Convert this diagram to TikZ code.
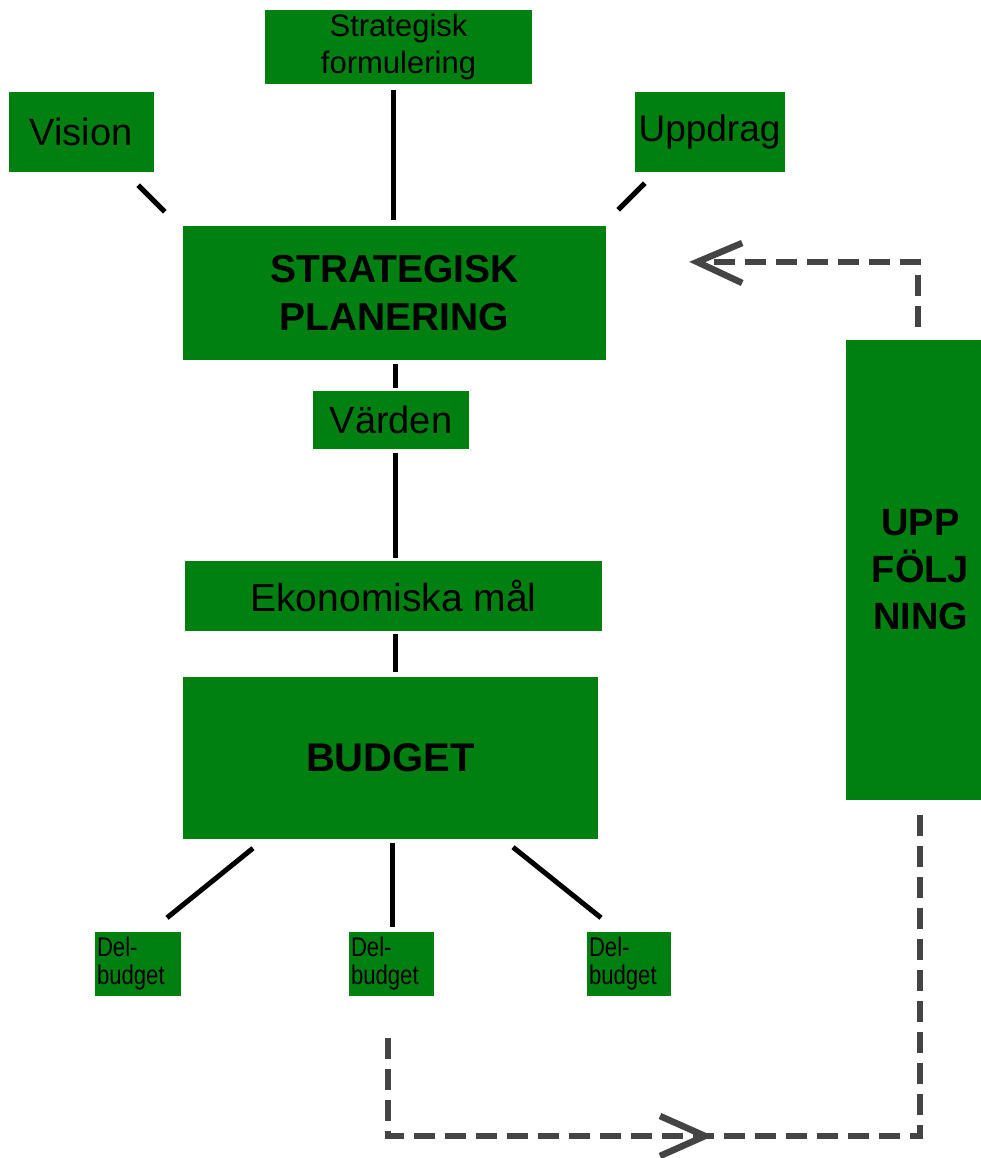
\documentclass[tikz,border=0pt]{standalone}
\usepackage{fontspec}
\setmainfont{Liberation Sans}
\newfontfamily\narrowsans[FakeStretch=0.82]{Liberation Sans}
\usetikzlibrary{calc}
\definecolor{boxgreen}{RGB}{0,128,16}
\definecolor{dashgray}{RGB}{68,68,68}
\begin{document}
\begin{tikzpicture}[x=1pt,y=-1pt,
  gbox/.style={fill=boxgreen,draw=none,inner sep=0pt,align=center,text=black},
  conn/.style={draw=black,line width=5pt},
  dashln/.style={draw=dashgray,line width=6pt,dash pattern=on 21pt off 10pt},
  chev/.style={draw=dashgray,line width=6.5pt,solid,line join=miter},
  fsf/.style={font=\fontsize{31}{37}\selectfont},
  freg/.style={font=\fontsize{38}{46}\selectfont},
  fbold/.style={font=\fontsize{39}{48}\selectfont\bfseries},
  fsmall/.style={font=\narrowsans\fontsize{27}{28}\selectfont}
]
\useasboundingbox (0,0) rectangle (981,1158);

\node[gbox,fsf,minimum width=267pt,minimum height=74pt] (sf) at (398.5,47) {Strategisk\\formulering};
\node[gbox,freg,minimum width=145pt,minimum height=80pt] (vision) at (81,132) {Vision};
\node[gbox,freg,font=\fontsize{37}{44}\selectfont,minimum width=150pt,minimum height=80pt] (uppdrag) at (709.5,132) {Uppdrag};
\node[gbox,fbold,minimum width=423pt,minimum height=134pt] (sp) at (394.5,293) {STRATEGISK\\PLANERING};
\node[gbox,freg,minimum width=156pt,minimum height=58pt] (varden) at (391,420) {Värden};
\node[gbox,freg,font=\fontsize{39}{46}\selectfont,minimum width=417pt,minimum height=70pt] (ek) at (393.5,596) {Ekonomiska mål};
\node[gbox,fbold,font=\fontsize{40}{48}\selectfont\bfseries,minimum width=415pt,minimum height=162pt] (budget) at (390.5,758) {BUDGET};
\node[gbox,fbold,font=\fontsize{38}{47}\selectfont\bfseries,minimum width=149pt,minimum height=460pt] (uf) at (920.5,570) {UPP\\FÖLJ\\NING};
\node[gbox,fsmall,align=left,text width=82pt,inner xsep=2pt,minimum height=64pt] (db1) at (138,964) {Del-\\budget};
\node[gbox,fsmall,align=left,text width=81pt,inner xsep=2pt,minimum height=64pt] (db2) at (391.5,964) {Del-\\budget};
\node[gbox,fsmall,align=left,text width=80pt,inner xsep=2pt,minimum height=64pt] (db3) at (629,964) {Del-\\budget};

% solid connectors
\draw[conn] ($(vision.south east)+(-15.5,13)$) -- ($(sp.north west)+(-18,-14)$);
\draw[conn] ($(sf.south)+(-5.5,6)$) -- ($(sp.north)+(-1.5,-6)$);
\draw[conn] ($(uppdrag.south west)+(10.5,11)$) -- ($(sp.north east)+(12,-16)$);
\draw[conn] ($(sp.south)+(0.5,4)$) -- ($(varden.north)+(4,-3)$);
\draw[conn] ($(varden.south)+(4,4)$) -- ($(ek.north)+(1.5,-3)$);
\draw[conn] ($(ek.south)+(1.5,3)$) -- ($(budget.north)+(4.5,-5)$);
\draw[conn] ($(budget.south)+(-137.5,9)$) -- ($(db1.north)+(29,-14)$);
\draw[conn] ($(budget.south)+(1.5,4)$) -- ($(db2.north)+(0.5,-5)$);
\draw[conn] ($(budget.south)+(122.5,8)$) -- ($(db3.north)+(-28,-14)$);

% dashed feedback loop
\coordinate (tipA) at ($(sp.east)+(91,-31)$);
\draw[dashln] ($(uf.north)+(-2.5,-13)$) |- (tipA);
\draw[chev] ($(tipA)+(45,-19)$) -- (tipA) -- ($(tipA)+(45,21)$);

\coordinate (ufEnd) at ($(uf.south)+(-0.5,15)$);
\draw[dashln] ($(db2.south)+(-3.5,42)$) |- ($(ufEnd)+(0,321)$) -- (ufEnd);
\coordinate (tipB) at (705,1136);
\draw[chev] ($(tipB)+(-45,-20)$) -- (tipB) -- ($(tipB)+(-45,20)$);
\end{tikzpicture}
\end{document}
